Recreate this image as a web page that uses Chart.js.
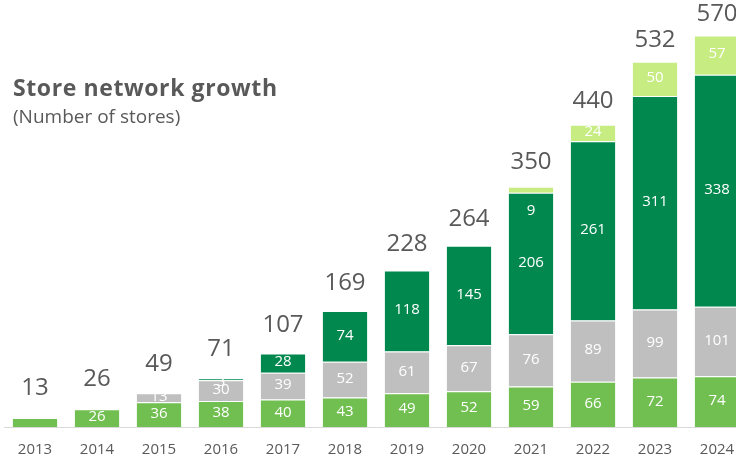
<!DOCTYPE html>
<html>
<head>
<meta charset="utf-8">
<script src="https://cdn.jsdelivr.net/npm/chart.js@4"></script>
<style>
  html, body { margin: 0; padding: 0; background: #fff; overflow: hidden; }
  #wrap { position: relative; width: 736px; height: 460px; overflow: hidden; }
  #storeChart { position: absolute; left: 0; top: 0; }
  .title { position: absolute; left: 13px; top: 73px; font-family: "Open Sans", sans-serif; color: #595959; }
  .title h1 { margin: 0; font-size: 23px; font-weight: 700; line-height: 28px; letter-spacing: 0.6px; }
  .title p { margin: 4px 0 0 0; font-size: 19px; font-weight: 400; line-height: 22px; }
</style>
</head>
<body>
<div id="wrap">
  <canvas id="storeChart" width="760" height="460"></canvas>
  <div class="title">
    <h1>Store network growth</h1>
    <p>(Number of stores)</p>
  </div>
</div>
<script>
const years = ["2013", "2014", "2015", "2016", "2017", "2018", "2019", "2020", "2021", "2022", "2023", "2024"];
const seriesA = [13, 26, 36, 38, 40, 43, 49, 52, 59, 66, 72, 74];
const seriesB = [0, 0, 13, 30, 39, 52, 61, 67, 76, 89, 99, 101];
const seriesC = [0, 0, 0, 3, 28, 74, 118, 145, 206, 261, 311, 338];
const seriesD = [0, 0, 0, 0, 0, 0, 0, 0, 9, 24, 50, 57];
const totals = [13, 26, 49, 71, 107, 169, 228, 264, 350, 440, 532, 570];

const FONT = "'Open Sans', sans-serif";

// white value labels inside the segments, totals above each column
const valueLabels = {
    id: "valueLabels",
    afterDatasetsDraw(chart) {
        const ctx = chart.ctx;
        ctx.save();
        ctx.textAlign = "center";
        chart.data.datasets.forEach((ds, di) => {
            const meta = chart.getDatasetMeta(di);
            meta.data.forEach((bar, i) => {
                const v = ds.data[i];
                if (!v || (di === 0 && i === 0)) return;
                const h = Math.abs(bar.base - bar.y);
                let y = (bar.y + bar.base) / 2 - 1;
                if (h < 8) y = di === 3 ? bar.y + 24 : bar.y + 3;
                ctx.font = "15px " + FONT;
                ctx.fillStyle = "#ffffff";
                ctx.textBaseline = "middle";
                ctx.fillText(v, bar.x, y);
            });
        });
        const top = chart.getDatasetMeta(0);
        const yScale = chart.scales.y;
        ctx.font = "24px " + FONT;
        ctx.fillStyle = "#595959";
        ctx.textBaseline = "alphabetic";
        totals.forEach((t, i) => {
            const x = top.data[i].x;
            const gap = 23.5 - 0.016 * t;
            ctx.fillText(t, x, yScale.getPixelForValue(t) - gap);
        });
        ctx.restore();
    },
};

const common = {
    borderColor: "#ffffff",
    borderWidth: { top: 1, bottom: 0, left: 0, right: 0 },
    borderSkipped: false,
    barPercentage: 0.72,
    categoryPercentage: 1.0,
};

new Chart(document.getElementById("storeChart"), {
    type: "bar",
    data: {
        labels: years,
        datasets: [
            { label: "A", data: seriesA, backgroundColor: "#70BF50", ...common },
            { label: "B", data: seriesB, backgroundColor: "#BFBFBF", ...common },
            { label: "C", data: seriesC, backgroundColor: "#00884F", ...common },
            { label: "D", data: seriesD, backgroundColor: "#C6EC82", ...common },
        ],
    },
    options: {
        responsive: false,
        animation: false,
        layout: { padding: { left: 4, right: 12, top: 15, bottom: 0 } },
        plugins: {
            legend: { display: false },
            tooltip: { enabled: false },
        },
        scales: {
            x: {
                stacked: true,
                grid: { display: false, drawTicks: false },
                border: { display: true, color: "#D9D9D9", width: 1 },
                ticks: { color: "#595959", font: { family: FONT, size: 15 }, padding: 14, maxRotation: 0 },
                afterFit: (scale) => { scale.height = 33; },
            },
            y: {
                stacked: true,
                display: false,
                min: 0,
                max: 600,
            },
        },
    },
    plugins: [valueLabels],
});
</script>
</body>
</html>
